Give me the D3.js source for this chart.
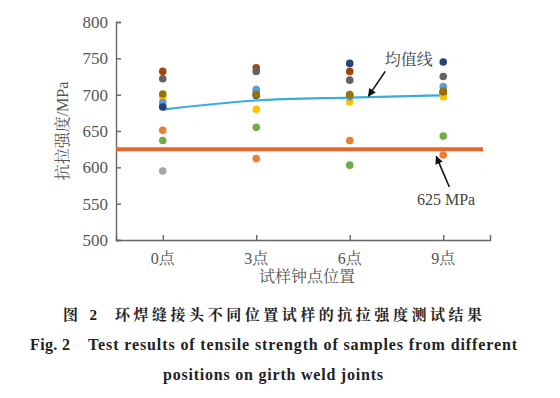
<!DOCTYPE html>
<html>
<head>
<meta charset="utf-8">
<script src="https://cdn.jsdelivr.net/npm/d3@7"></script>
<style>
    body { margin: 0; background: #fff; }
    #chart { width: 560px; height: 398px; }
</style>
</head>
<body>
<div id="chart"></div>
<script>
// clock positions of the samples on the girth weld
const positions = ['0点', '3点', '6点', '9点'];

// tensile strength (MPa) of each sample at each position
const sample1 = [684, 704, 698, 702];
const sample2 = [651, 612, 637, 617];
const sample3 = [595, 701, 699, 700];
const sample4 = [697, 680, 690, 697];
const sample5 = [689, 707, 697, 711];
const sample6 = [637, 655, 603, 643];
const sample7 = [683, 699, 743, 745];
const sample8 = [732, 737, 732, 704];
const sample9 = [722, 732, 720, 725];
const sample10 = [701, 700, 700, 705];

// mean line and required minimum
const meanValues = [679.5, 692, 696, 699];
const limitValue = 625;

const yTicks = [500, 550, 600, 650, 700, 750, 800];

const samples = [sample1, sample2, sample3, sample4, sample5, sample6, sample7, sample8, sample9, sample10];
const colors = ['#4472C4', '#ED7D31', '#A5A5A5', '#FFC000', '#5B9BD5',
    '#70AD47', '#264478', '#9E480E', '#636363', '#997300'];

const serif = "'Liberation Serif', 'Noto Serif CJK SC'";

class StrengthChart {
    constructor(parentElement) {
        this.parentElement = parentElement;
        this.initVis();
    }

    initVis() {
        let vis = this;

        vis.margin = {top: 22, right: 70, bottom: 158, left: 116};
        vis.width = 560 - vis.margin.left - vis.margin.right;
        vis.height = 398 - vis.margin.top - vis.margin.bottom;

        vis.root = d3.select("#" + vis.parentElement).append("svg")
            .attr("width", 560)
            .attr("height", 398);

        vis.svg = vis.root.append("g")
            .attr("transform", "translate(" + vis.margin.left + "," + vis.margin.top + ")");

        vis.root.append("defs").append("marker")
            .attr("id", "arrow")
            .attr("viewBox", "0 0 10 10")
            .attr("refX", 9)
            .attr("refY", 5)
            .attr("markerWidth", 10)
            .attr("markerHeight", 8)
            .attr("markerUnits", "userSpaceOnUse")
            .attr("orient", "auto")
            .append("path")
            .attr("d", "M0,0L10,5L0,10Z")
            .attr("fill", "#111");

        vis.x = d3.scalePoint()
            .domain(positions)
            .range([0, vis.width])
            .padding(0.5);

        vis.y = d3.scaleLinear()
            .domain([500, 800])
            .range([vis.height, 0]);

        vis.drawAxes();
        vis.updateVis();
        vis.drawCaption();
    }

    drawAxes() {
        let vis = this;

        vis.svg.append("g")
            .call(d3.axisRight(vis.y).tickValues(yTicks).tickSize(5).tickFormat(""));

        vis.svg.append("g")
            .selectAll("text")
            .data(yTicks)
            .enter()
            .append("text")
            .attr("x", -8)
            .attr("y", d => vis.y(d))
            .attr("dy", "0.35em")
            .attr("text-anchor", "end")
            .style("font-family", serif)
            .style("font-size", "17px")
            .attr("fill", "#555")
            .text(d => d);

        vis.svg.append("g")
            .attr("transform", "translate(0," + vis.height + ")")
            .call(d3.axisTop(vis.x).tickSize(5).tickFormat(""));

        vis.svg.selectAll(".domain, .tick line")
            .attr("stroke", "#666")
            .attr("stroke-width", 1.4);

        vis.svg.append("g")
            .selectAll("text")
            .data(positions)
            .enter()
            .append("text")
            .attr("x", d => vis.x(d))
            .attr("y", vis.height + 24)
            .attr("text-anchor", "middle")
            .style("font-family", serif)
            .style("font-size", "16px")
            .attr("fill", "#555")
            .text(d => d);

        vis.svg.append("text")
            .attr("x", vis.width / 2 + 4)
            .attr("y", vis.height + 42)
            .attr("text-anchor", "middle")
            .style("font-family", serif)
            .style("font-size", "16px")
            .attr("fill", "#555")
            .text("试样钟点位置");

        vis.svg.append("text")
            .attr("transform", "rotate(-90)")
            .attr("x", -vis.height / 2)
            .attr("y", -48)
            .attr("text-anchor", "middle")
            .style("font-family", serif)
            .style("font-size", "16px")
            .attr("fill", "#555")
            .text("抗拉强度/MPa");
    }

    updateVis() {
        let vis = this;

        // required minimum strength
        vis.svg.append("line")
            .attr("x1", 0)
            .attr("x2", vis.width - 7)
            .attr("y1", vis.y(limitValue))
            .attr("y2", vis.y(limitValue))
            .attr("stroke", "#E5672E")
            .attr("stroke-width", 4);

        // mean line
        let line = d3.line()
            .x((d, i) => vis.x(positions[i]))
            .y(d => vis.y(d))
            .curve(d3.curveMonotoneX);

        vis.svg.append("path")
            .datum(meanValues)
            .attr("d", line)
            .attr("fill", "none")
            .attr("stroke", "#38AEDD")
            .attr("stroke-width", 2.2);

        // sample points, one colour per sample
        samples.forEach((s, k) => {
            vis.svg.append("g")
                .selectAll("circle")
                .data(s)
                .enter()
                .append("circle")
                .attr("cx", (d, i) => vis.x(positions[i]))
                .attr("cy", d => vis.y(d))
                .attr("r", 3.8)
                .attr("fill", colors[k]);
        });

        // annotations
        let step = vis.x.step();
        let x6 = vis.x('6点');
        let x9 = vis.x('9点');

        vis.svg.append("line")
            .attr("x1", x6 + 0.38 * step)
            .attr("y1", vis.y(732))
            .attr("x2", x6 + 0.2 * step)
            .attr("y2", vis.y(698))
            .attr("stroke", "#111")
            .attr("stroke-width", 1.6)
            .attr("marker-end", "url(#arrow)");

        vis.svg.append("text")
            .attr("x", x6 + 0.63 * step)
            .attr("y", vis.y(741))
            .attr("text-anchor", "middle")
            .style("font-family", serif)
            .style("font-size", "16px")
            .attr("fill", "#444")
            .text("均值线");

        vis.svg.append("line")
            .attr("x1", x9 + 0.065 * step)
            .attr("y1", vis.y(573))
            .attr("x2", x9 - 0.075 * step)
            .attr("y2", vis.y(615))
            .attr("stroke", "#111")
            .attr("stroke-width", 1.6)
            .attr("marker-end", "url(#arrow)");

        vis.svg.append("text")
            .attr("x", x9 + 0.03 * step)
            .attr("y", vis.y(548))
            .attr("text-anchor", "middle")
            .style("font-family", serif)
            .style("font-size", "16px")
            .attr("fill", "#444")
            .text("625 MPa");
    }

    drawCaption() {
        let vis = this;

        // caption pieces: text, left x, baseline y, width, font size
        let caption = [
            ["图 2", 63, 320, 34, 15],
            ["环焊缝接头不同位置试样的抗拉强度测试结果", 115, 320, 367, 15],
            ["Fig. 2", 30, 350, 40, 16],
            ["Test results of tensile strength of samples from different", 88, 350, 429, 16],
            ["positions on girth weld joints", 163, 380, 220, 16]
        ];

        vis.root.append("g")
            .selectAll("text")
            .data(caption)
            .enter()
            .append("text")
            .attr("x", d => d[1])
            .attr("y", d => d[2])
            .attr("textLength", d => d[3])
            .attr("lengthAdjust", "spacing")
            .style("font-family", serif)
            .style("font-size", d => d[4] + "px")
            .style("font-weight", "bold")
            .attr("fill", "#222")
            .text(d => d[0]);
    }
}

new StrengthChart("chart");
</script>
</body>
</html>
